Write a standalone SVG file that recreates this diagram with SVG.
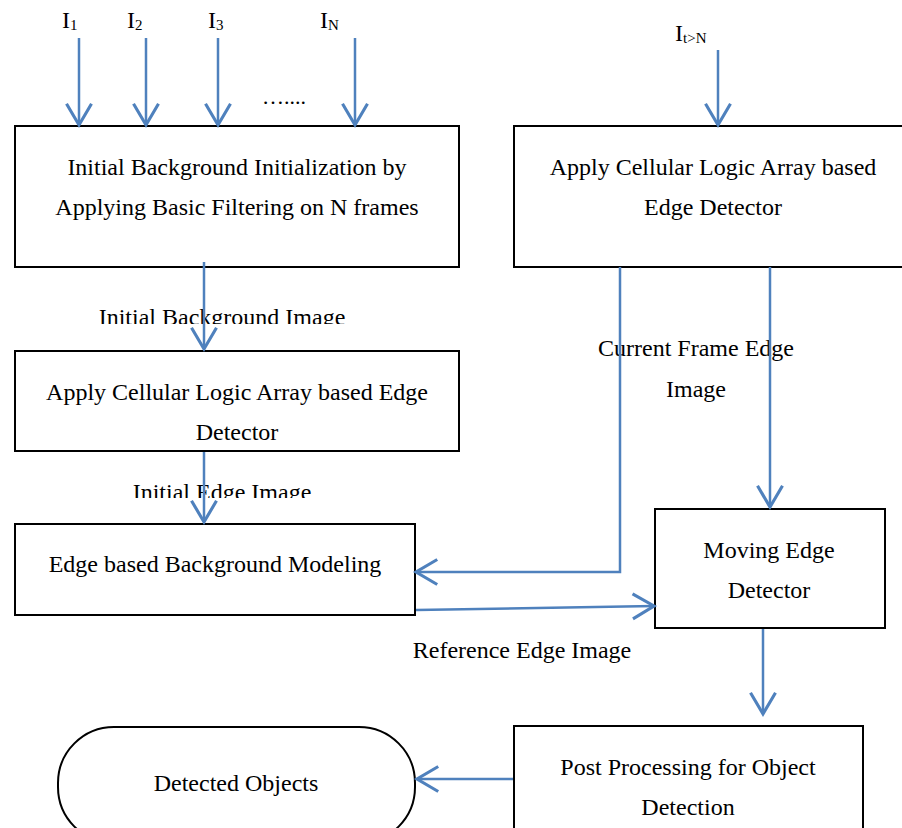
<svg xmlns="http://www.w3.org/2000/svg" width="902" height="828" viewBox="0 0 902 828">
<defs>
<style>
.box{fill:#fff;stroke:#000;stroke-width:2}
.t{font-family:"Liberation Serif","Times New Roman",serif;font-size:24px;fill:#000}
.m{text-anchor:middle}
.sub{font-size:15px}
.c{fill:none;stroke:#4f81bd;stroke-width:2.5}
.a{marker-end:url(#ah)}
</style>
<marker id="ah" markerUnits="userSpaceOnUse" markerWidth="30" markerHeight="30" viewBox="-20 -12 22 24" refX="0" refY="0" orient="auto">
<path d="M-17,-10 L0,0 L-17,10" fill="none" stroke="#4f81bd" stroke-width="2.5"/>
</marker>
<clipPath id="clipA"><rect x="0" y="290" width="470" height="34"/></clipPath>
<clipPath id="clipB"><rect x="0" y="465" width="470" height="33"/></clipPath>
</defs>
<rect width="902" height="828" fill="#fff"/>

<g id="inputs">
<text class="t" x="62" y="28">I<tspan class="sub" dy="2">1</tspan></text>
<text class="t" x="127" y="28">I<tspan class="sub" dy="2">2</tspan></text>
<text class="t" x="208" y="28">I<tspan class="sub" dy="2">3</tspan></text>
<text class="t" x="320" y="28">I<tspan class="sub" dy="2">N</tspan></text>
<text class="t" x="262" y="104" style="font-size:22px">…....</text>
<text class="t" x="675" y="41">I<tspan class="sub" dy="2">t&gt;N</tspan></text>
</g>

<g id="n1">
<rect class="box" x="15" y="126" width="444" height="141"/>
<text class="t m" x="237" y="175">Initial Background Initialization by</text>
<text class="t m" x="237" y="215">Applying Basic Filtering on N frames</text>
</g>
<g id="n2">
<rect class="box" x="514" y="126" width="395" height="141"/>
<text class="t m" x="713" y="175">Apply Cellular Logic Array based</text>
<text class="t m" x="713" y="215">Edge Detector</text>
</g>
<g id="n3">
<rect class="box" x="15" y="351" width="444" height="100"/>
<text class="t m" x="237" y="400">Apply Cellular Logic Array based Edge</text>
<text class="t m" x="237" y="440">Detector</text>
</g>
<g id="n4">
<rect class="box" x="15" y="524" width="400" height="91"/>
<text class="t m" x="215" y="572">Edge based Background Modeling</text>
</g>
<g id="n5">
<rect class="box" x="655" y="509" width="230" height="119"/>
<text class="t m" x="769" y="558">Moving Edge</text>
<text class="t m" x="769" y="598">Detector</text>
</g>
<g id="n6">
<rect class="box" x="514" y="726" width="349" height="120"/>
<text class="t m" x="688" y="775">Post Processing for Object</text>
<text class="t m" x="688" y="815">Detection</text>
</g>
<g id="n7">
<rect class="box" x="58" y="727" width="357" height="116" rx="56" ry="56"/>
<text class="t m" x="236" y="791">Detected Objects</text>
</g>

<g id="labels">
<text class="t m" x="222" y="325" clip-path="url(#clipA)">Initial Background Image</text>
<text class="t m" x="222" y="500" clip-path="url(#clipB)">Initial Edge Image</text>
<text class="t m" x="696" y="356">Current Frame Edge</text>
<text class="t m" x="696" y="397">Image</text>
<text class="t m" x="522" y="658">Reference Edge Image</text>
</g>

<g id="connectors">
<line class="c a" x1="79" y1="38" x2="79" y2="125"/>
<line class="c a" x1="146" y1="38" x2="146" y2="125"/>
<line class="c a" x1="218" y1="38" x2="218" y2="125"/>
<line class="c a" x1="355" y1="38" x2="355" y2="125"/>
<line class="c a" x1="718" y1="50" x2="718" y2="125"/>
<line class="c a" x1="204" y1="262" x2="204" y2="349"/>
<line class="c a" x1="204" y1="452" x2="204" y2="522"/>
<polyline class="c a" points="620,267 620,572 416,572"/>
<line class="c a" x1="770" y1="267" x2="770" y2="507"/>
<line class="c a" x1="416" y1="610" x2="654" y2="606"/>
<line class="c a" x1="763" y1="629" x2="763" y2="714"/>
<line class="c a" x1="513" y1="779" x2="417" y2="779"/>
</g>
</svg>
